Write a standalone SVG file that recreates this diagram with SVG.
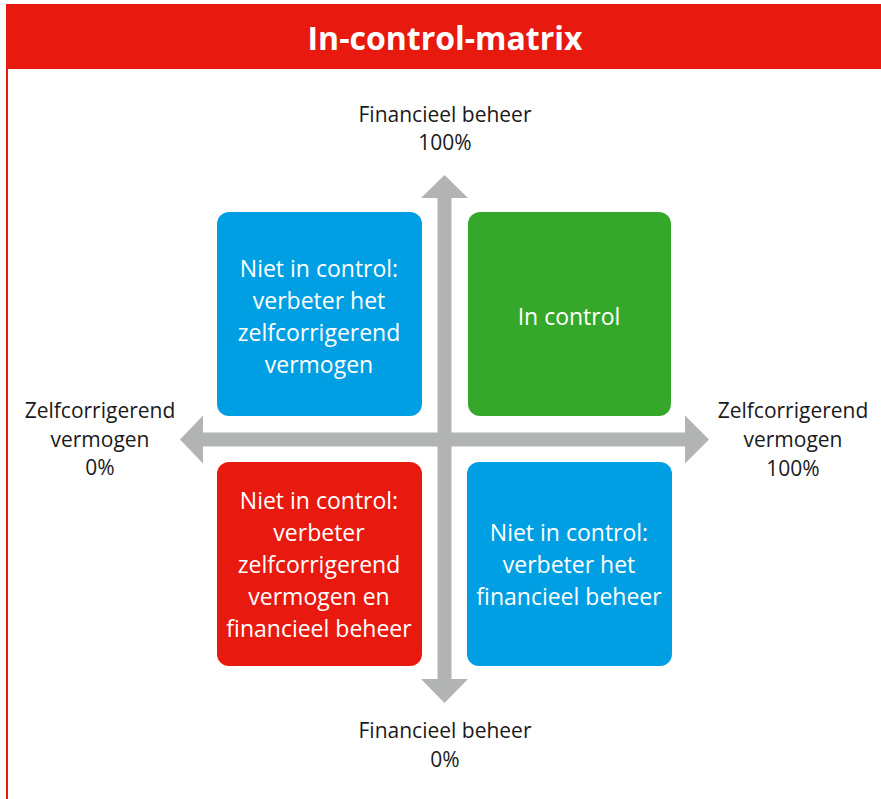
<svg xmlns="http://www.w3.org/2000/svg" width="881" height="799" viewBox="0 0 881 799">
<style>
.lbl{font-family:"Open Sans","Noto Sans","Liberation Sans",sans-serif;font-size:21px;fill:#1a1a1a;text-anchor:middle}
.box{font-family:"Open Sans","Noto Sans","Liberation Sans",sans-serif;font-size:23px;fill:#ffffff;text-anchor:middle}
.title{font-family:"Open Sans","Noto Sans","Liberation Sans",sans-serif;font-size:32px;font-weight:bold;fill:#ffffff;text-anchor:middle}
.arrow{fill:#b2b3b3}
</style>
<rect x="0" y="0" width="881" height="799" fill="#ffffff"/>
<g id="header">
<rect x="6" y="4" width="875" height="65" fill="#e8190f"/>
<rect x="6" y="69" width="2" height="730" fill="#e8190f"/>
<text class="title" x="445" y="50">In-control-matrix</text>
</g>
<g id="connectors">
<polygon class="arrow" points="444.5,175 468,198 451.5,198 451.5,679 468,679 444.5,703 421,679 437.5,679 437.5,198 421,198"/>
<polygon class="arrow" points="180,439.5 203,415.5 203,432.5 685,432.5 685,415.5 709,439.5 685,463.5 685,446.5 203,446.5 203,463.5"/>
</g>
<g id="label-top">
<text class="lbl" x="445" y="122">Financieel beheer</text>
<text class="lbl" x="445" y="150">100%</text>
</g>
<g id="label-bottom">
<text class="lbl" x="445" y="738">Financieel beheer</text>
<text class="lbl" x="445" y="767">0%</text>
</g>
<g id="label-left">
<text class="lbl" x="100" y="418">Zelfcorrigerend</text>
<text class="lbl" x="100" y="447">vermogen</text>
<text class="lbl" x="100" y="475">0%</text>
</g>
<g id="label-right">
<text class="lbl" x="793" y="418">Zelfcorrigerend</text>
<text class="lbl" x="793" y="447">vermogen</text>
<text class="lbl" x="793" y="476">100%</text>
</g>
<g id="node-tl">
<rect x="217" y="212" width="205" height="204" rx="12" fill="#009fe3"/>
<text class="box" x="319" y="277">Niet in control:</text>
<text class="box" x="319" y="309">verbeter het</text>
<text class="box" x="319" y="341">zelfcorrigerend</text>
<text class="box" x="319" y="373">vermogen</text>
</g>
<g id="node-tr">
<rect x="468" y="212" width="203" height="204" rx="12" fill="#35a82c"/>
<text class="box" x="569" y="325">In control</text>
</g>
<g id="node-bl">
<rect x="217" y="462" width="205" height="204" rx="12" fill="#e8190f"/>
<text class="box" x="319" y="509">Niet in control:</text>
<text class="box" x="319" y="541">verbeter</text>
<text class="box" x="319" y="573">zelfcorrigerend</text>
<text class="box" x="319" y="605">vermogen en</text>
<text class="box" x="319" y="637">financieel beheer</text>
</g>
<g id="node-br">
<rect x="467" y="462" width="205" height="204" rx="12" fill="#009fe3"/>
<text class="box" x="569" y="541">Niet in control:</text>
<text class="box" x="569" y="573">verbeter het</text>
<text class="box" x="569" y="605">financieel beheer</text>
</g>
</svg>
